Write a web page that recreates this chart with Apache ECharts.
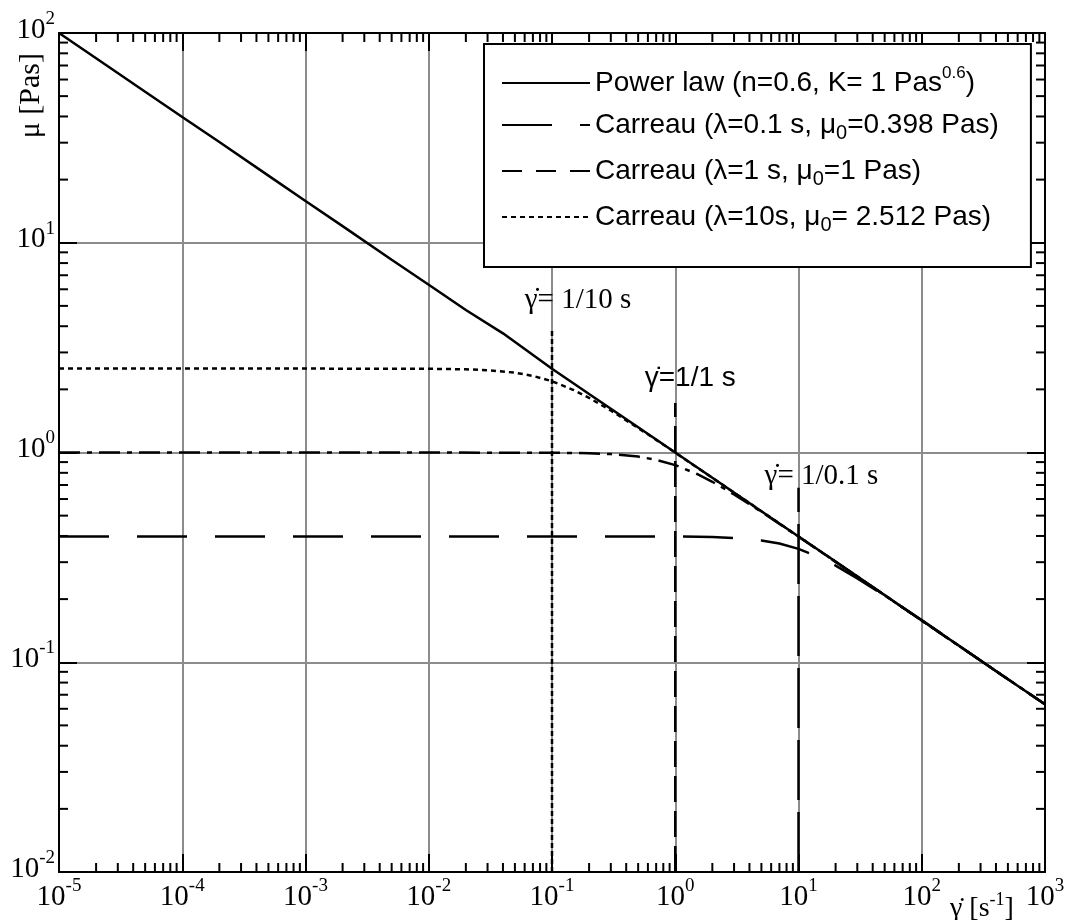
<!DOCTYPE html>
<html>
<head>
<meta charset="utf-8">
<script src="https://cdn.jsdelivr.net/npm/echarts@6/dist/echarts.min.js"></script>
<style>
  html, body { margin: 0; padding: 0; background: #fff; }
  #chart { width: 1065px; height: 920px; }
</style>
</head>
<body>
<div id="chart"></div>
<script>
// Shear rate (1/s) and viscosity (Pa s) for each model curve
const powerLawRate = [1e-5, 2e-5, 5e-5, 1e-4, 2e-4, 5e-4, 1e-3, 2e-3, 5e-3, 1e-2, 2e-2, 4e-2, 1e-1, 2e-1, 5e-1, 1, 2, 5, 10, 20, 50, 100, 200, 500, 1000];
const powerLawVisc = [100, 75.8, 52.5, 39.8, 30.2, 20.9, 15.8, 12.0, 8.3, 6.31, 4.78, 3.70, 2.51, 1.90, 1.32, 1.00, 0.758, 0.525, 0.398, 0.302, 0.209, 0.158, 0.120, 0.083, 0.063];

const carreauA_Rate = [1e-5, 1e-3, 0.1, 1, 2, 3, 5, 7, 10, 15, 20, 30, 50, 100, 200, 500, 1000];
const carreauA_Visc = [0.398, 0.398, 0.398, 0.398, 0.395, 0.391, 0.381, 0.368, 0.347, 0.315, 0.289, 0.251, 0.208, 0.159, 0.120, 0.083, 0.063];

const carreauB_Rate = [1e-5, 1e-3, 0.1, 0.2, 0.3, 0.5, 0.7, 1, 1.5, 2, 3, 5, 10, 20, 50, 100, 1000];
const carreauB_Visc = [1.0, 1.0, 0.998, 0.992, 0.983, 0.956, 0.923, 0.871, 0.790, 0.725, 0.631, 0.521, 0.397, 0.301, 0.209, 0.158, 0.063];

const carreauC_Rate = [1e-5, 1e-4, 1e-3, 1e-2, 0.02, 0.03, 0.05, 0.07, 0.1, 0.15, 0.2, 0.3, 0.5, 0.7, 1, 2, 5, 10, 100, 1000];
const carreauC_Visc = [2.512, 2.512, 2.512, 2.507, 2.492, 2.469, 2.402, 2.319, 2.187, 1.985, 1.821, 1.585, 1.309, 1.149, 0.998, 0.757, 0.525, 0.398, 0.158, 0.063];

// Characteristic shear rates 1/lambda and the top of each marker line
const markerRate = [0.1, 1, 10];
const markerTop = [3.9, 1.72, 0.68];
const markerText = ['γ̇= 1/10 s', 'γ̇=1/1 s', 'γ̇= 1/0.1 s'];

// Decade tick exponents
const xTickExponents = [-5, -4, -3, -2, -1, 0, 1, 2, 3];
const yTickExponents = [-2, -1, 0, 1, 2];

const seriesNames = ['power', 'carreauA', 'carreauB', 'carreauC'];
const legendText = {
  power: '{t|Power law (n=0.6, K= 1 Pas}{sup|0.6}{t|)}',
  carreauA: '{t|Carreau (λ=0.1 s, μ}{sub|0}{t|=0.398 Pas)}',
  carreauB: '{t|Carreau (λ=1 s, μ}{sub|0}{t|=1 Pas)}',
  carreauC: '{t|Carreau (λ=10s, μ}{sub|0}{t|= 2.512 Pas)}'
};

const X_MIN = Math.pow(10, xTickExponents[0]);
const X_MAX = Math.pow(10, xTickExponents[xTickExponents.length - 1]);
const Y_MIN = Math.pow(10, yTickExponents[0]);
const Y_MAX = Math.pow(10, yTickExponents[yTickExponents.length - 1]);

const SERIF = 'Liberation Serif, Times New Roman, serif';
const SANS = 'Liberation Sans, Arial, sans-serif';

function pairs(xs, ys) { return xs.map((x, i) => [x, ys[i]]); }

function minorValues(exps) {
  const out = [];
  for (let i = 0; i < exps.length - 1; i++) {
    for (let m = 2; m <= 9; m++) out.push(m * Math.pow(10, exps[i]));
  }
  return out;
}

// Short inward ticks at 2..9 within each decade, on both opposite frame sides
function minorTickSeries(values, isX) {
  const L = 9;
  const style = { stroke: '#000', lineWidth: 2 };
  return {
    type: 'custom', silent: true, clip: false, z: 6,
    data: values.map(v => isX ? [v, 1] : [1, v]),
    renderItem(params, api) {
      const v = api.value(isX ? 0 : 1);
      const a = isX ? api.coord([v, Y_MIN]) : api.coord([X_MIN, v]);
      const b = isX ? api.coord([v, Y_MAX]) : api.coord([X_MAX, v]);
      const children = isX ? [
        { type: 'line', shape: { x1: a[0], y1: a[1], x2: a[0], y2: a[1] - L }, style },
        { type: 'line', shape: { x1: b[0], y1: b[1], x2: b[0], y2: b[1] + L }, style }
      ] : [
        { type: 'line', shape: { x1: a[0], y1: a[1], x2: a[0] + L, y2: a[1] }, style },
        { type: 'line', shape: { x1: b[0], y1: b[1], x2: b[0] - L, y2: b[1] }, style }
      ];
      return { type: 'group', children };
    }
  };
}

function expLabel(v) {
  const e = Math.round(Math.log10(v));
  return '{b|10}{s|' + e + '}';
}

const labelRich = {
  b: { fontSize: 29, fontFamily: SERIF, color: '#000', lineHeight: 35, verticalAlign: 'bottom' },
  s: { fontSize: 19, fontFamily: SERIF, color: '#000', lineHeight: 19, verticalAlign: 'top' }
};

const majorTick = { show: true, inside: true, length: 18, lineStyle: { color: '#000', width: 2 } };
const frameLine = { show: true, lineStyle: { color: '#000', width: 2 } };
const gridLine = { show: true, lineStyle: { color: '#8c8c8c', width: 2 } };

function curve(name, xs, ys, dash) {
  return {
    name, type: 'line', data: pairs(xs, ys), symbol: 'none', showSymbol: false, z: 4,
    lineStyle: { color: '#000', width: 2.5, type: dash, cap: 'butt' },
    itemStyle: { color: '#000' }
  };
}

function markerLine(i, dash) {
  return {
    type: 'line', symbol: 'none', z: 3, silent: true,
    data: [[markerRate[i], Y_MIN], [markerRate[i], markerTop[i]]],
    lineStyle: { color: '#000', width: 2.5, type: dash }
  };
}

const chart = echarts.init(document.getElementById('chart'), null, { renderer: 'canvas' });

chart.setOption({
  animation: false,
  backgroundColor: '#fff',
  grid: { left: 59, right: 20, top: 33, bottom: 48, containLabel: false, outerBoundsMode: 'none' },
  xAxis: [
    {
      type: 'log', logBase: 10, min: X_MIN, max: X_MAX, interval: 1, splitNumber: 8,
      axisLine: frameLine, axisTick: majorTick, splitLine: gridLine,
      axisLabel: { margin: 5, formatter: expLabel, rich: labelRich, showMinLabel: true, showMaxLabel: true }
    },
    {
      type: 'log', logBase: 10, min: X_MIN, max: X_MAX, interval: 1, splitNumber: 8, position: 'top',
      axisLine: frameLine, axisTick: majorTick, splitLine: { show: false }, axisLabel: { show: false }
    }
  ],
  yAxis: [
    {
      type: 'log', logBase: 10, min: Y_MIN, max: Y_MAX, interval: 1, splitNumber: 4,
      axisLine: frameLine, axisTick: majorTick, splitLine: gridLine,
      axisLabel: { margin: 4, formatter: expLabel, rich: labelRich, padding: [0, 0, 12, 0], showMinLabel: true, showMaxLabel: true }
    },
    {
      type: 'log', logBase: 10, min: Y_MIN, max: Y_MAX, interval: 1, splitNumber: 4, position: 'right',
      axisLine: frameLine, axisTick: majorTick, splitLine: { show: false }, axisLabel: { show: false }
    }
  ],
  legend: {
    data: [
      { name: 'power' },
      { name: 'carreauA' },
      { name: 'carreauB', lineStyle: { type: [20, 14] } },
      { name: 'carreauC' }
    ],
    orient: 'vertical', left: 484, top: 44,
    padding: [21, 32, 32, 17],
    itemWidth: 88, itemHeight: 20, itemGap: 14,
    backgroundColor: '#fff', borderColor: '#000', borderWidth: 2, borderRadius: 0,
    selectedMode: false,
    itemStyle: { opacity: 0, borderWidth: 0 },
    formatter: name => legendText[name],
    textStyle: {
      color: '#000',
      rich: {
        t: { fontSize: 28, fontFamily: SANS, color: '#000', lineHeight: 36 },
        sub: { fontSize: 20, fontFamily: SANS, color: '#000', lineHeight: 14, verticalAlign: 'bottom' },
        sup: { fontSize: 17, fontFamily: SANS, color: '#000', lineHeight: 14, verticalAlign: 'top' }
      }
    }
  },
  graphic: [
    {
      type: 'text', left: 16, top: 53, rotation: Math.PI / 2,
      style: { text: 'μ [Pas]', fontSize: 30, fontFamily: SERIF, fill: '#000' }
    },
    {
      type: 'text', left: 950, top: 891,
      style: {
        text: '{t|γ̇ [s}{s|-1}{t|]}',
        rich: {
          t: { fontSize: 28, fontFamily: SERIF, fill: '#000', lineHeight: 32, verticalAlign: 'bottom' },
          s: { fontSize: 18, fontFamily: SERIF, fill: '#000', lineHeight: 18, verticalAlign: 'top' }
        }
      }
    }
  ],
  series: [
    curve('power', powerLawRate, powerLawVisc, 'solid'),
    curve('carreauA', carreauA_Rate, carreauA_Visc, [50, 28]),
    curve('carreauB', carreauB_Rate, carreauB_Visc, [21, 7, 5, 7]),
    curve('carreauC', carreauC_Rate, carreauC_Visc, [5, 4]),
    markerLine(0, [5, 3]),
    markerLine(1, [26, 9]),
    markerLine(2, [60, 12]),
    {
      type: 'scatter', symbol: 'circle', symbolSize: 1, z: 7, silent: true,
      itemStyle: { color: 'rgba(0,0,0,0)' },
      data: markerRate.map((x, i) => ({
        value: [x, markerTop[i]],
        label: {
          show: true, position: 'top',
          formatter: markerText[i],
          fontFamily: i === 1 ? SANS : SERIF,
          fontSize: i === 1 ? 28 : 29,
          color: '#000', opacity: 1, textBorderWidth: 0,
          offset: [[26, -8], [15, -5], [23, 9]][i]
        }
      }))
    },
    minorTickSeries(minorValues(xTickExponents), true),
    minorTickSeries(minorValues(yTickExponents), false)
  ]
});
</script>
</body>
</html>
